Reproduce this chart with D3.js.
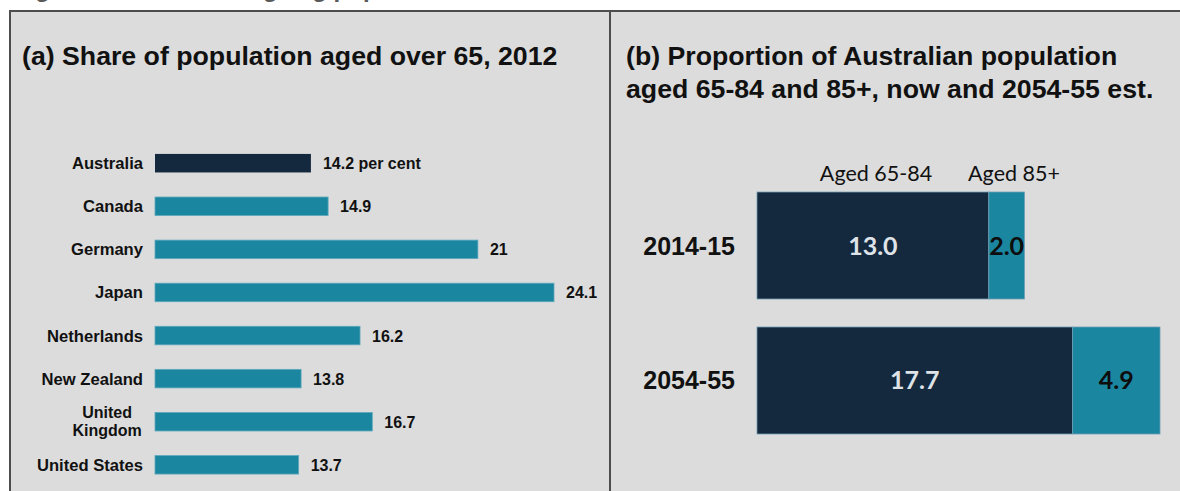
<!DOCTYPE html>
<html>
<head>
<meta charset="utf-8">
<script src="https://cdn.jsdelivr.net/npm/d3@7"></script>
<style>
  html, body { margin: 0; padding: 0; background: #ffffff; }
  svg { display: block; }
</style>
</head>
<body>
<svg id="chart" width="1180" height="491"></svg>
<script>
// Panel (a): share of population aged over 65, 2012
const countries = ["Australia", "Canada", "Germany", "Japan", "Netherlands", "New Zealand", "United Kingdom", "United States"];
const shareOver65 = [14.2, 14.9, 21, 24.1, 16.2, 13.8, 16.7, 13.7];
const shareLabels = ["14.2 per cent", "14.9", "21", "24.1", "16.2", "13.8", "16.7", "13.7"];

// Panel (b): Australian population aged 65-84 and 85+, now and 2054-55 est.
const periods = ["2014-15", "2054-55"];
const aged65to84 = [13.0, 17.7];
const aged85plus = [2.0, 4.9];
const ageGroups = ["Aged 65-84", "Aged 85+"];

const NAVY = "#14283e";
const TEAL = "#1b86a0";
const PANEL = "#dcdcdc";
const RULE = "#4d4d4d";

const svg = d3.select("#chart");

// Figure heading, mostly above the visible area
svg.append("text")
  .attr("x", 14).attr("y", -3)
  .attr("font-family", "Liberation Sans, Arial, sans-serif")
  .attr("font-weight", "bold").attr("font-size", 24)
  .attr("fill", "#5a5a5a")
  .text("Figure 1: Australia's ageing population");

// Grey panel with frame and divider
svg.append("rect").attr("x", 9).attr("y", 10).attr("width", 1171).attr("height", 481).attr("fill", PANEL);
svg.append("line").attr("x1", 9).attr("x2", 1180).attr("y1", 11).attr("y2", 11).attr("stroke", RULE).attr("stroke-width", 2);
svg.append("line").attr("x1", 10).attr("x2", 10).attr("y1", 10).attr("y2", 491).attr("stroke", RULE).attr("stroke-width", 2);
svg.append("line").attr("x1", 610).attr("x2", 610).attr("y1", 10).attr("y2", 491).attr("stroke", RULE).attr("stroke-width", 2);

const titleFont = "Liberation Sans, Arial, sans-serif";
const titleSize = 26.7;

// ---------- Panel (a) ----------
svg.append("text")
  .attr("x", 22).attr("y", 65)
  .attr("font-family", titleFont).attr("font-weight", "bold").attr("font-size", titleSize)
  .attr("fill", "#111")
  .text("(a) Share of population aged over 65, 2012");

const xA = d3.scaleLinear().domain([7.85, 24.1]).range([155, 554]);
const yA = d3.scaleBand().domain(countries).range([141, 487]).paddingInner(0.57).paddingOuter(0.3);

const gA = svg.append("g");
gA.selectAll("rect.bar")
  .data(countries)
  .join("rect")
  .attr("class", "bar")
  .attr("x", xA(7.85))
  .attr("y", d => yA(d))
  .attr("width", (d, i) => xA(shareOver65[i]) - xA(7.85))
  .attr("height", yA.bandwidth())
  .attr("fill", (d, i) => i === 0 ? NAVY : TEAL)
  .attr("stroke", (d, i) => i === 0 ? "none" : "#5fa9bd")
  .attr("stroke-width", 0.8);

// Category labels (right aligned; wrapped names centred on their widest line)
const labelFont = "Liberation Sans, Arial, sans-serif";
const labelSize = 16.6;
const valueSize = 16;
countries.forEach((c, i) => {
  const cy = yA(c) + yA.bandwidth() / 2;
  if (c === "United Kingdom") {
    const lines = ["United", "Kingdom"];
    const probe = gA.append("text").attr("font-family", labelFont).attr("font-weight", "bold").attr("font-size", labelSize).text("Kingdom");
    const w = probe.node().getComputedTextLength();
    probe.remove();
    lines.forEach((ln, k) => {
      gA.append("text")
        .attr("x", 143 - w / 2).attr("y", cy - 4 + k * 18)
        .attr("font-family", labelFont).attr("font-weight", "bold").attr("font-size", 16)
        .attr("fill", "#111").attr("text-anchor", "middle")
        .text(ln);
    });
  } else {
    gA.append("text")
      .attr("x", 143).attr("y", cy + 6)
      .attr("font-family", labelFont).attr("font-weight", "bold").attr("font-size", labelSize)
      .attr("fill", "#111").attr("text-anchor", "end")
      .text(c);
  }
  gA.append("text")
    .attr("x", xA(shareOver65[i]) + 12).attr("y", cy + 6)
    .attr("font-family", labelFont).attr("font-weight", "bold").attr("font-size", valueSize)
    .attr("fill", "#111")
    .text(shareLabels[i]);
});

// ---------- Panel (b) ----------
const tB = svg.append("text")
  .attr("font-family", titleFont).attr("font-weight", "bold").attr("font-size", titleSize)
  .attr("fill", "#111");
tB.append("tspan").attr("x", 626).attr("y", 65).text("(b) Proportion of Australian population");
tB.append("tspan").attr("x", 626).attr("y", 98).text("aged 65-84 and 85+, now and 2054-55 est.");

const xB = d3.scaleLinear().domain([0, 22.6]).range([757, 1160]);
const yB = d3.scaleBand().domain(periods).range([192, 434]).paddingInner(0.2074).paddingOuter(0);

const stacked = periods.map((p, i) => ({ period: p, parts: [
  { key: ageGroups[0], x0: 0, x1: aged65to84[i], v: aged65to84[i], fill: NAVY, text: "#dfe3e8" },
  { key: ageGroups[1], x0: aged65to84[i], x1: aged65to84[i] + aged85plus[i], v: aged85plus[i], fill: TEAL, text: "#0d0d0d" }
]}));

const gB = svg.append("g");
stacked.forEach(row => {
  const y0 = yB(row.period), h = yB.bandwidth();
  row.parts.forEach(pt => {
    gB.append("rect")
      .attr("x", xB(pt.x0)).attr("y", y0)
      .attr("width", xB(pt.x1) - xB(pt.x0)).attr("height", h)
      .attr("fill", pt.fill)
      .attr("stroke", "#6f9fb3").attr("stroke-width", 0.8);
    gB.append("text")
      .attr("x", (xB(pt.x0) + xB(pt.x1)) / 2).attr("y", y0 + h / 2 + 9)
      .attr("text-anchor", "middle")
      .attr("font-family", "Lato, sans-serif").attr("font-weight", "bold").attr("font-size", 25)
      .attr("fill", pt.text)
      .text(pt.v.toFixed(1));
  });
  gB.append("text")
    .attr("x", 735).attr("y", y0 + h / 2 + 9)
    .attr("text-anchor", "end")
    .attr("font-family", titleFont).attr("font-weight", "bold").attr("font-size", 25)
    .attr("fill", "#111")
    .text(row.period);
});

// Series legend above the first bar
const legendX = [876, 1014];
ageGroups.forEach((g, i) => {
  svg.append("text")
    .attr("x", legendX[i]).attr("y", 181)
    .attr("text-anchor", "middle")
    .attr("font-family", "Lato, sans-serif").attr("font-size", 21.5)
    .attr("fill", "#111")
    .text(g);
});
</script>
</body>
</html>
